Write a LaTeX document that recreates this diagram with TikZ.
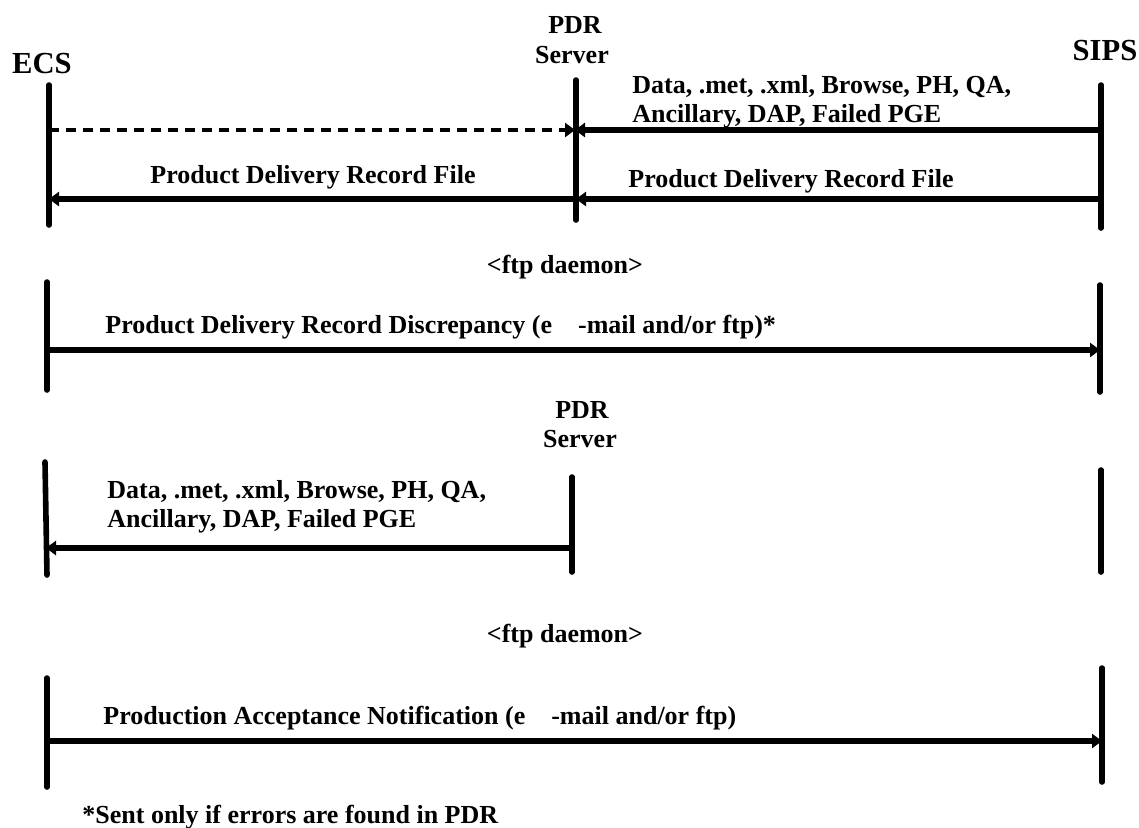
\documentclass[tikz,border=0pt]{standalone}
\usepackage{fontspec}
\setmainfont{Liberation Serif}
\usetikzlibrary{arrows.meta}
\usetikzlibrary{positioning}

\begin{document}
\begin{tikzpicture}[x=0.5pt,y=-0.5pt,
	lifeline/.style={line width=2.8pt,line cap=round},
	msg/.style={line width=2.6pt,-{Triangle[length=5pt,width=7pt]}},
	hint/.style={line width=2pt,dash pattern=on 5pt off 3.5pt,-{Triangle[length=5pt,width=7pt]}},
	]
	\useasboundingbox (0,0) rectangle (1139,827);

	% actors and labels
	\begin{scope}[every node/.style={inner sep=0pt,font=\bfseries\fontsize{13}{14.5}\selectfont}]
		\node [font=\bfseries\fontsize{15.3}{16}\selectfont,anchor=base] (ECS) at (42,73) {ECS};
		\node [font=\bfseries\fontsize{15.3}{16}\selectfont,anchor=base] (SIPS) at (1105,60) {SIPS};
		\node [anchor=base] (PDREins) at (575,33) {PDR};
		\node [anchor=base] (ServerEins) at (572,63) {Server};
		\node [anchor=base west,align=left] (DataEins) at (632,122) {Data, .met, .xml, Browse, PH, QA,\\Ancillary, DAP, Failed PGE};
		\node [anchor=base west] (PDRFileLinks) at (150,183) {Product Delivery Record File};
		\node [anchor=base west] (PDRFileRechts) at (628,187) {Product Delivery Record File};
		\node [anchor=base] (ftpEins) at (565,273) {<ftp daemon>};
		\node [anchor=base west] (Discrepancy) at (105,333) {Product Delivery Record Discrepancy (e\hspace{13pt}-mail and/or ftp)*};
		\node [anchor=base] (PDRZwei) at (582,418) {PDR};
		\node [anchor=base] (ServerZwei) at (580,447) {Server};
		\node [anchor=base west,align=left] (DataZwei) at (107,527) {Data, .met, .xml, Browse, PH, QA,\\Ancillary, DAP, Failed PGE};
		\node [anchor=base] (ftpZwei) at (565,642) {<ftp daemon>};
		\node [anchor=base west] (Acceptance) at (103,724) {Production Acceptance Notification (e\hspace{13pt}-mail and/or ftp)};
		\node [anchor=base west] (Fussnote) at (82,823) {*Sent only if errors are found in PDR};
	\end{scope}

	% lifelines
	\coordinate (ECSEinsO) at (49,85);   \coordinate (ECSEinsU) at (49,225);
	\coordinate (PDREinsO) at (576,80);  \coordinate (PDREinsU) at (576,220);
	\coordinate (SIPSEinsO) at (1101,85); \coordinate (SIPSEinsU) at (1101,228);
	\coordinate (ECSZweiO) at (47,282);  \coordinate (ECSZweiU) at (47,390);
	\coordinate (SIPSZweiO) at (1100,285); \coordinate (SIPSZweiU) at (1100,392);
	\coordinate (ECSDreiO) at (45,462);  \coordinate (ECSDreiU) at (47,575);
	\coordinate (PDRDreiO) at (572,477); \coordinate (PDRDreiU) at (572,572);
	\coordinate (SIPSDreiO) at (1101,470); \coordinate (SIPSDreiU) at (1101,572);
	\coordinate (ECSVierO) at (47,678);  \coordinate (ECSVierU) at (47,787);
	\coordinate (SIPSVierO) at (1102,668); \coordinate (SIPSVierU) at (1102,782);

	\begin{scope}[lifeline]
		\draw (ECSEinsO) -- (ECSEinsU);
		\draw (PDREinsO) -- (PDREinsU);
		\draw (SIPSEinsO) -- (SIPSEinsU);
		\draw (ECSZweiO) -- (ECSZweiU);
		\draw (SIPSZweiO) -- (SIPSZweiU);
		\draw (ECSDreiO) -- (ECSDreiU);
		\draw (PDRDreiO) -- (PDRDreiU);
		\draw (SIPSDreiO) -- (SIPSDreiU);
		\draw (ECSVierO) -- (ECSVierU);
		\draw (SIPSVierO) -- (SIPSVierU);
	\end{scope}

	% messages
	\coordinate (ECSa) at (49,130);   \coordinate (PDRa) at (575,130);  \coordinate (SIPSa) at (1101,130);
	\coordinate (ECSb) at (49,199);   \coordinate (PDRb) at (576,199);  \coordinate (SIPSb) at (1101,199);
	\coordinate (ECSc) at (47,350);   \coordinate (SIPSc) at (1100,350);
	\coordinate (ECSd) at (46,548);   \coordinate (PDRd) at (572,548);
	\coordinate (ECSe) at (47,741);   \coordinate (SIPSe) at (1102,741);

	\path [hint] (ECSa) edge (PDRa);
	\path [msg] (SIPSa) edge (PDRa);
	\path [msg] (SIPSb) edge (PDRb);
	\path [msg] (PDRb) edge (ECSb);
	\path [msg] (ECSc) edge (SIPSc);
	\path [msg] (PDRd) edge (ECSd);
	\path [msg] (ECSe) edge (SIPSe);
\end{tikzpicture}
\end{document}
